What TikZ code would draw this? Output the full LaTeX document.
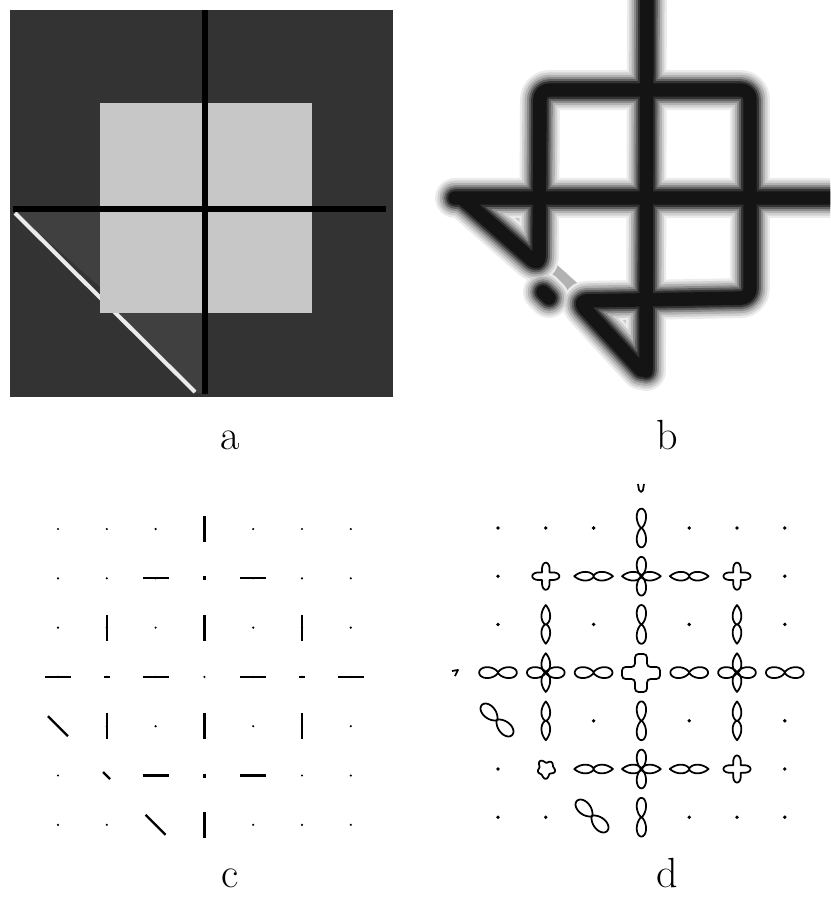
\documentclass[tikz,border=0pt]{standalone}
\usepackage{fontspec}
\usepackage{tikz}
\tikzstyle{lobe} = [line width=1.5pt, line join=round]
\tikzstyle{bar} = [line width=2pt]
\tikzstyle{tag} = [font=\fontsize{36pt}{38pt}\selectfont, anchor=base, inner sep=0pt]
\colorlet{bgdark}{black!80}
\colorlet{bgmid}{black!75}
\colorlet{bglight}{black!22}
\tikzset{
  pics/eight/.style 2 args={code={
    \draw[lobe] plot[domain=0:360, samples=181] (\x:{#1*(cos(\x)*cos(\x)+0.0005)^(#2)+0.3}) -- cycle;
  }},
  pics/spindle/.style={code={
    \draw[lobe] plot[domain=0:360, samples=181] (\x:{#1*(1.002-abs(sin(\x)))^1.2+0.3}) -- cycle;
  }},
  pics/clover/.style={code={
    \draw[lobe] plot[domain=0:360, samples=121] (\x:{9.5+4*cos(4*\x)}) -- cycle;
  }},
  pics/blob/.style={code={
    \draw[lobe] plot[domain=0:360, samples=121] (\x:{8+1.2*sin(5*\x)+0.8*cos(3*\x+40)}) -- cycle;
  }},
  pics/plus/.style={code={
    \draw[lobe, rounded corners=3pt] (-6,-19) -- (6,-19) -- (6,-6) -- (19,-6) -- (19,6) -- (6,6)
      -- (6,19) -- (-6,19) -- (-6,6) -- (-19,6) -- (-19,-6) -- (-6,-6) -- cycle;
  }}
}

\begin{document}
\begin{tikzpicture}[x=0.03cm, y=-0.03cm]
    % 画布
    \path[fill=white, use as bounding box] (0,0) rectangle (830,897);

    % 图 a
    \fill[bgdark] (10,10) rectangle (393,397);
    \fill[bgmid] (14,211) -- (100,211) -- (100,287) -- cycle;
    \fill[bgmid] (118,313) -- (205,313) -- (205,393) -- (195,393) -- cycle;
    \draw[line width=3.5pt, black!8] (15,213) -- (195,392);
    \fill[bglight] (100,103) rectangle (312,313);
    \draw[line width=5pt] (205,10) -- (205,394);
    \draw[line width=5pt] (13,209) -- (386,209);

    % 图 b
    \begin{scope}
    \clip (415,0) rectangle (830,415);
    \fill[black!22] (465,199) -- (540,199) -- (540,266) -- cycle;
    \fill[black!22] (580,302) -- (646,302) -- (641,370) -- cycle;
    \draw[line width=22pt, black!30, line cap=round] (539,266) -- (578,301);
    \foreach \w/\c in {34/8, 30/18, 26/30, 22/45, 18.5/62, 15/80, 11.5/92} {
        \draw[line width=\w pt, black!\c, line cap=round, line join=round, rounded corners=8pt]
            (647,-20) -- (646,371)
            (455,198) -- (850,198)
            (463,199) -- (539,266) -- (540,90) -- (750,90) -- (750,298) -- (578,301) -- (641,370)
            (543,292) -- (549,298);
    }
    \end{scope}

    % 图 c
    \foreach \i in {0,...,6}
        \foreach \j in {0,...,6}
            \fill ({58+48.8*\i},{529+49.3*\j}) circle (1.2);
    \foreach \i/\j in {3/0, 1/2, 3/2, 5/2, 1/4, 3/4, 5/4, 3/6}
        \draw[bar] ({58+48.8*\i},{529+49.3*\j-13}) -- ++(0,26);
    \foreach \i/\j in {2/1, 4/1, 0/3, 2/3, 4/3, 6/3, 2/5, 4/5}
        \draw[bar] ({58+48.8*\i-13},{529+49.3*\j}) -- ++(26,0);
    \foreach \i/\j in {0/4, 2/6}
        \draw[bar] ({58+48.8*\i-10},{529+49.3*\j-10}) -- ++(20,20);
    \draw[bar] (204.4,576.3) -- ++(0,4);
    \draw[bar] (204.4,773.5) -- ++(0,4);
    \draw[bar] (103.8,676.9) -- ++(6,0);
    \draw[bar] (299,676.9) -- ++(6,0);
    \draw[bar] (103,772) -- ++(7,7);

    % 图 d
    \foreach \i/\j in {0/0, 1/0, 2/0, 4/0, 5/0, 6/0, 0/1, 6/1, 0/2, 2/2, 4/2, 6/2,
                       2/4, 4/4, 6/4, 0/5, 6/5, 0/6, 1/6, 4/6, 5/6, 6/6}
        \fill ({498+47.8*\i},{528+48.2*\j}) circle (1.9);
    \foreach \i/\j in {3/0, 3/1, 3/2, 3/4, 3/5, 3/6}
        \pic[rotate=90] at ({498+47.8*\i},{528+48.2*\j}) {eight={19}{3}};
    \foreach \i/\j in {0/3, 1/3, 2/3, 4/3, 5/3, 6/3}
        \pic at ({498+47.8*\i},{528+48.2*\j}) {eight={18.5}{2}};
    \foreach \i/\j in {1/2, 5/2, 1/3, 5/3, 1/4, 5/4}
        \pic[rotate=90] at ({498+47.8*\i},{528+48.2*\j}) {spindle=19};
    \foreach \i/\j in {2/1, 3/1, 4/1, 2/5, 3/5, 4/5}
        \pic at ({498+47.8*\i},{528+48.2*\j}) {spindle=19};
    \foreach \i/\j in {1/1, 5/1, 5/5}
        \pic at ({498+47.8*\i},{528+48.2*\j}) {clover};
    \pic at (546,769) {blob};
    \pic at (641,673) {plus};
    \pic[rotate=-45] at (497,720) {eight={21}{2}};
    \pic[rotate=-45] at (592,816) {eight={21}{2}};
    \draw[lobe] (638,484) -- (639,490) -- (641,492) -- (643,490) -- (644,484);
    \draw[lobe] (452,671) -- (458,670) -- (455,676);

    % 标注
    \node[tag] (la) at (230,449) {a};
    \node[tag] (lb) at (667,449) {b};
    \node[tag] (lc) at (230,887) {c};
    \node[tag] (ld) at (667,887) {d};
\end{tikzpicture}
\end{document}
